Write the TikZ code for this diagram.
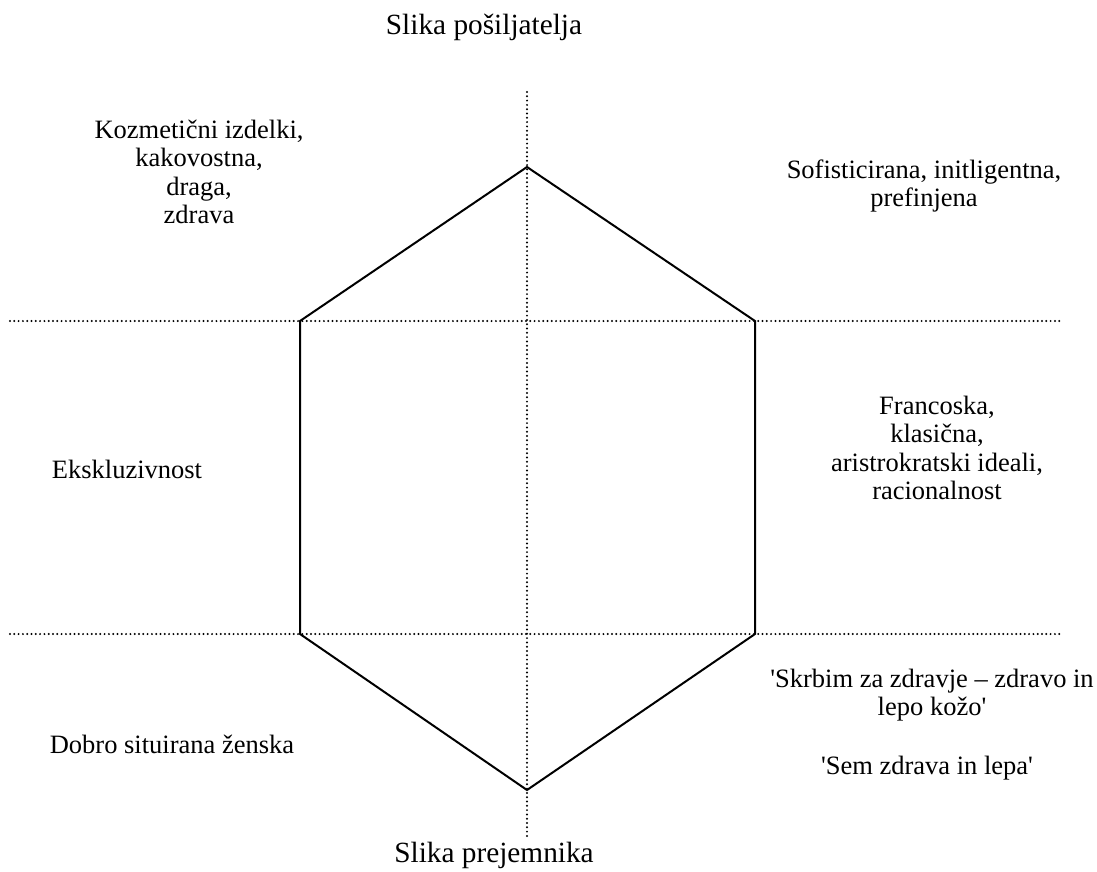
\documentclass[tikz,border=0pt]{standalone}
\usepackage{fontspec}
\setmainfont{Liberation Serif}
\begin{document}
\begin{tikzpicture}[x=1pt,y=-1pt,
  txt/.style={font=\fontsize{26.5}{28.5}\selectfont, align=center, inner sep=0pt},
  ttl/.style={font=\fontsize{29.3}{32}\selectfont, inner sep=0pt},
  axis/.style={line width=2.2pt, dash pattern=on 0pt off 4.3pt, line cap=round},
  hex/.style={line width=2pt, line join=miter}]
\useasboundingbox (0,0) rectangle (1097,871);
% axes end points
\coordinate (vt) at (527,92);
\coordinate (vb) at (527,838);
\coordinate (h1l) at (10,321);
\coordinate (h1r) at (1062,321);
\coordinate (h2l) at (10,634);
\coordinate (h2r) at (1062,634);
\draw[axis] (vt) -- (vb);
\draw[axis] (h1l) -- (h1r);
\draw[axis] (h2l) -- (h2r);
% hexagon
\coordinate (T) at (527,167);
\coordinate (UR) at (755,321);
\coordinate (LR) at (755,634);
\coordinate (B) at (527,790);
\coordinate (LL) at (300,634);
\coordinate (UL) at (300,321);
\draw[hex] (T) -- (UR) -- (LR) -- (B) -- (LL) -- (UL) -- cycle;
% labels
\node[ttl] (top) at (484,27) {Slika pošiljatelja};
\node[ttl] (bot) at (494,855) {Slika prejemnika};
\node[txt] (tl) at (199,172) {Kozmetični izdelki,\\kakovostna,\\draga,\\zdrava};
\node[txt] (tr) at (924,186) {Sofisticirana, initligentna,\\prefinjena};
\node[txt] (ml) at (127,469) {Ekskluzivnost};
\node[txt] (mr) at (937,448) {Francoska,\\klasična,\\aristrokratski ideali,\\racionalnost};
\node[txt] (bl) at (172,744) {Dobro situirana ženska};
\node[txt] (br) at (932,695) {\textquotesingle Skrbim za zdravje – zdravo in\\lepo kožo\textquotesingle};
\node[txt] (br2) at (927,768) {\textquotesingle Sem zdrava in lepa\textquotesingle};
\end{tikzpicture}
\end{document}
